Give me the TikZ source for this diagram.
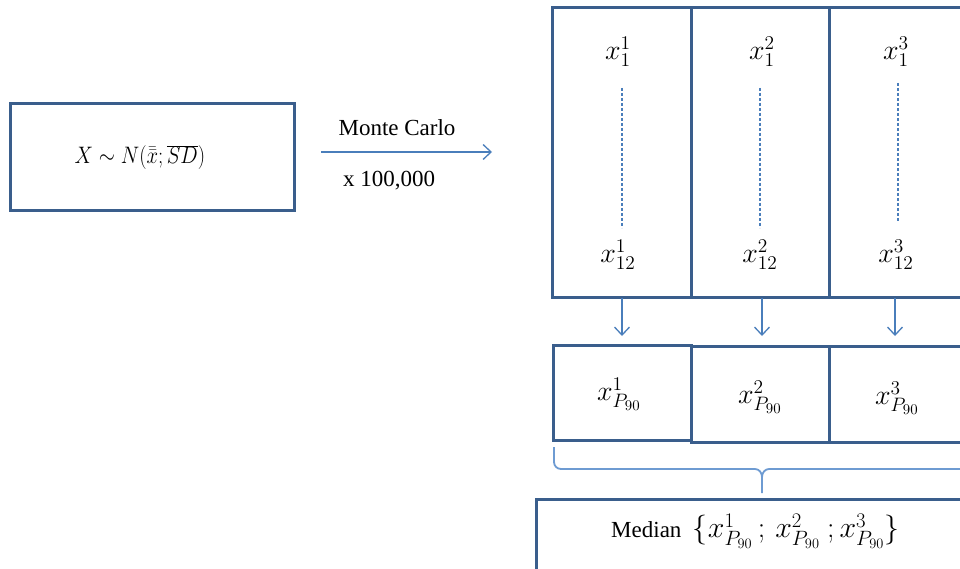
\documentclass[tikz,border=0pt]{standalone}
\usepackage{graphicx}
\usepackage{fontspec}
\setmainfont{Liberation Serif}
\usetikzlibrary{arrows.meta}
\definecolor{bord}{RGB}{58,94,140}
\definecolor{arr}{RGB}{74,126,187}
\definecolor{brc}{RGB}{110,155,210}
\newcommand{\mxx}[2][1.35]{\scalebox{#1}{$#2$}}
\tikzset{
  box/.style={draw=bord, line width=3pt, fill=white, inner sep=0pt},
  txt/.style={font=\fontsize{23}{28}\selectfont, inner sep=0pt},
  mtxt/.style={font=\fontsize{22}{26}\selectfont, inner sep=0pt},
  flow/.style={draw=arr, line width=1.3pt, -{Straight Barb[length=8pt,width=15pt,line width=1.3pt]}},
  dots/.style={draw=arr, line width=1.2pt, dash pattern=on 3pt off 2pt},
  brace/.style={draw=brc, line width=1.8pt},
}
\begin{document}
\begin{tikzpicture}[x=1pt,y=-1pt]
\clip (0,0) rectangle (960,569);
\fill[white] (0,0) rectangle (960,569);
% left box
\node[box, mtxt, minimum width=284pt, minimum height=107pt] (src) at (152,157.5)
  {\hspace*{-24pt}\raisebox{4pt}{\scalebox{1}[1.15]{$X\sim N(\bar{\bar{x}};\overline{SD})$}}};
% Monte Carlo arrow
\coordinate (mcs) at (321,152);
\coordinate (mce) at (492,152);
\draw[flow] (mcs) -- (mce);
\node[txt] (mc) at (397,128) {Monte Carlo};
\node[txt] (mcn) at (389,181) {x 100,000};
% top columns
\node[box, minimum width=139pt, minimum height=289pt] (c1) at (621.5,152.5) {};
\node[box, minimum width=138pt, minimum height=289pt] (c2) at (760,152.5) {};
\node[box, minimum width=140pt, minimum height=289pt] (c3) at (899,152.5) {};
\node[mtxt] (a1) at (618,52) {\mxx{x_1^1}};
\node[mtxt] (a2) at (762,52) {\mxx{x_1^2}};
\node[mtxt] (a3) at (896,52) {\mxx{x_1^3}};
\node[mtxt] (b1) at (618,255) {\mxx{x_{12}^1}};
\node[mtxt] (b2) at (760,255) {\mxx{x_{12}^2}};
\node[mtxt] (b3) at (896,255) {\mxx{x_{12}^3}};
\coordinate (d1s) at (622,88); \coordinate (d1e) at (622,228);
\coordinate (d2s) at (760,88); \coordinate (d2e) at (760,228);
\coordinate (d3s) at (898,83); \coordinate (d3e) at (898,222);
\draw[dots] (d1s) -- (d1e);
\draw[dots] (d2s) -- (d2e);
\draw[dots] (d3s) -- (d3e);
% middle boxes
\node[box, minimum width=138pt, minimum height=95pt] (m1) at (622,392.5) {};
\node[box, minimum width=138pt, minimum height=96pt] (m2) at (760,394) {};
\node[box, minimum width=140pt, minimum height=96pt] (m3) at (899,394) {};
\node[mtxt] (p1) at (619,394) {\mxx{x_{P_{90}}^1}};
\node[mtxt] (p2) at (760,397) {\mxx{x_{P_{90}}^2}};
\node[mtxt] (p3) at (897,398) {\mxx{x_{P_{90}}^3}};
% down arrows
\coordinate (e1s) at (622,298); \coordinate (e1e) at (622,336);
\coordinate (e2s) at (762,298); \coordinate (e2e) at (762,336);
\coordinate (e3s) at (895,298); \coordinate (e3e) at (895,336);
\draw[flow] (e1s) -- (e1e);
\draw[flow] (e2s) -- (e2e);
\draw[flow] (e3s) -- (e3e);
% brace
\coordinate (bl) at (554,447);
\coordinate (bt) at (762,493);
\coordinate (br) at (990,469);
\draw[brace] (bl) -- (554,462) to[out=-90,in=180] (561,469) -- (755,469)
  to[out=0,in=90] (762,477) -- (bt);
\draw[brace] (762,477) to[out=90,in=180] (769,469) -- (br);
% bottom box
\node[box, minimum width=460pt, minimum height=110pt, anchor=north west] (med) at (535,498) {};
\node[txt, anchor=west] (medt) at (611,531) {Median\ \ \mxx[1.2]{\{x_{P_{90}}^1\,;\,x_{P_{90}}^2\ ;x_{P_{90}}^3\}}};
\end{tikzpicture}
\end{document}
